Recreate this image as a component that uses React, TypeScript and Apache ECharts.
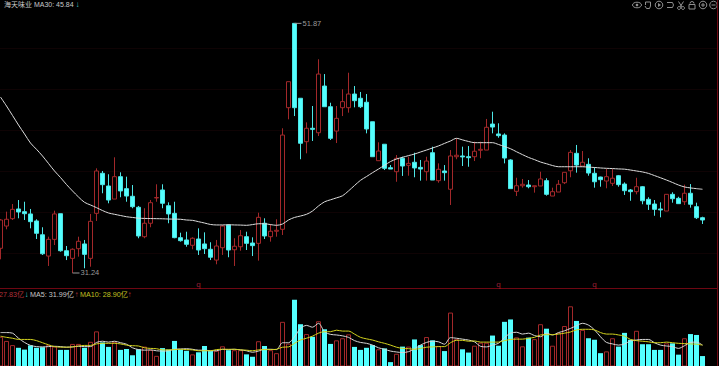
import React, { useEffect, useRef } from "react";
import * as echarts from "echarts";

const opens = [
  33.28,35.12,35.73,36.53,36.31,36.12,35.54,34.40,32.64,34.02,
  36.14,33.08,32.45,33.25,33.64,32.45,36.17,39.48,38.43,37.35,
  39.20,38.21,37.58,36.67,34.24,35.35,37.44,38.10,36.80,36.17,
  34.16,33.97,33.53,34.05,33.64,33.20,32.31,33.33,35.21,33.16,
  33.41,34.24,33.72,33.69,35.35,34.24,34.69,34.85,44.90,51.87,
  45.68,42.09,43.20,42.83,46.69,44.98,42.97,44.90,44.90,46.03,
  45.68,45.35,43.74,40.52,41.88,39.94,39.61,40.72,40.14,40.39,
  39.97,39.61,41.18,38.87,39.67,38.16,40.85,40.91,40.85,40.85,
  41.38,41.40,43.55,42.73,42.64,40.58,37.99,38.45,38.51,38.37,
  38.43,38.87,37.60,37.93,38.70,39.69,41.13,40.08,40.22,39.48,
  39.17,38.84,38.65,39.28,38.59,38.10,37.96,38.37,37.33,36.94,
  36.53,36.36,37.74,37.41,37.13,37.83,36.72,35.81,
];
const closes = [
  35.62,35.68,36.50,36.28,36.14,35.48,34.52,32.83,34.02,36.12,
  33.08,32.67,33.20,33.86,32.78,35.51,39.67,38.54,37.27,39.20,
  38.02,37.60,36.72,34.30,35.35,37.05,37.48,37.00,36.12,34.16,
  33.91,33.61,34.11,33.14,33.25,32.54,33.47,35.12,33.14,33.45,
  34.32,33.69,33.50,35.84,34.30,34.69,34.77,42.64,47.05,44.90,
  41.96,43.20,43.11,47.68,44.98,42.37,44.02,45.40,46.03,45.48,
  44.98,43.14,40.85,41.32,39.89,39.83,40.72,40.08,40.30,39.92,
  39.83,40.49,38.92,39.81,39.53,40.91,40.97,40.83,40.77,41.30,
  41.46,43.28,43.30,42.59,40.74,38.21,38.45,38.57,38.37,38.45,
  39.01,37.74,37.96,38.57,39.56,41.21,40.16,40.39,39.50,38.78,
  38.95,39.20,39.07,38.54,38.04,37.96,38.37,37.21,36.92,36.50,
  36.45,37.74,37.38,36.97,37.83,36.92,35.81,35.62,
];
const lows = [
  32.37,34.85,35.62,35.76,35.62,34.93,34.05,32.73,31.82,33.55,
  33.00,32.31,31.24,32.59,31.63,31.76,35.54,37.83,37.00,37.35,
  37.50,37.13,36.59,34.11,34.11,35.02,37.13,36.59,35.35,34.11,
  33.83,33.41,33.20,32.73,32.81,32.31,31.96,32.73,32.54,31.82,
  33.08,33.14,32.64,32.26,34.05,33.83,34.24,34.38,43.94,44.21,
  40.64,41.13,42.15,42.56,44.98,42.23,41.98,44.21,44.49,44.93,
  44.87,42.78,40.85,40.52,39.75,39.83,38.78,39.26,39.28,39.15,
  38.87,38.87,38.92,38.70,38.87,36.86,40.64,40.08,40.02,40.49,
  40.72,41.40,42.78,42.42,40.30,38.21,37.60,38.29,38.24,37.88,
  38.43,37.63,37.60,37.93,38.59,39.15,39.53,40.08,39.28,38.29,
  38.37,38.24,38.43,38.37,37.69,37.21,37.74,36.92,36.45,35.97,
  35.84,36.36,37.05,36.94,36.86,36.64,35.70,35.29,
];
const highs = [
  35.70,36.31,36.94,37.27,37.13,36.53,35.68,35.02,34.24,36.39,
  36.14,33.47,33.28,34.24,33.97,36.12,39.89,39.67,39.40,40.80,
  39.56,39.20,38.51,36.78,36.59,37.27,38.57,38.57,37.08,37.13,
  34.57,34.65,34.19,34.93,34.60,33.78,33.97,35.21,35.26,34.11,
  34.79,34.65,34.19,36.22,35.76,35.29,35.68,43.20,47.05,51.87,
  45.68,43.69,45.04,48.90,47.68,45.31,45.04,46.42,47.79,46.69,
  46.20,46.03,43.74,42.04,41.88,40.16,40.99,40.85,40.85,41.18,
  40.58,40.85,41.68,40.30,40.16,41.40,42.37,41.68,41.73,42.09,
  42.09,43.97,44.57,43.61,42.78,40.64,39.11,39.01,38.92,38.45,
  39.61,39.07,38.29,38.92,39.56,41.40,41.82,41.32,40.72,39.97,
  39.20,39.83,39.83,39.34,38.73,38.18,39.11,38.43,37.50,37.27,
  37.08,37.74,37.91,37.54,38.54,38.59,37.05,35.89,
];
const ma30 = [
  45.78,45.04,44.26,43.47,42.73,41.98,41.46,40.91,40.29,39.67,
  39.13,38.55,38.02,37.52,37.08,36.86,36.64,36.40,36.20,36.09,
  35.99,35.89,35.83,35.77,35.75,35.74,35.73,35.72,35.70,35.69,
  35.68,35.62,35.59,35.48,35.37,35.25,35.21,35.21,35.23,35.21,
  35.20,35.18,35.24,35.31,35.31,35.24,35.18,35.29,35.62,35.83,
  35.95,36.09,36.36,36.78,37.12,37.29,37.45,37.62,38.02,38.47,
  38.90,39.21,39.53,39.83,40.14,40.45,40.66,40.80,40.94,41.07,
  41.24,41.40,41.57,41.74,41.95,42.15,42.37,42.24,42.11,42.01,
  42.01,42.01,42.01,41.86,41.69,41.51,41.26,41.02,40.79,40.61,
  40.41,40.27,40.12,40.02,40.02,40.02,40.02,40.02,39.99,39.96,
  39.92,39.89,39.87,39.84,39.82,39.75,39.67,39.59,39.47,39.29,
  39.11,38.92,38.72,38.51,38.35,38.27,38.21,38.16,
];
const volumes = [
  34.3,32.9,31.5,30.6,30.0,31.4,30.6,30.8,31.5,31.0,
  29.9,29.9,31.9,31.9,30.6,32.6,36.1,32.4,30.9,32.6,
  29.9,30.2,28.1,30.1,31.0,29.9,27.9,30.5,30.0,32.9,
  30.0,29.6,28.4,29.1,31.2,29.5,29.6,31.1,29.8,29.8,
  29.8,28.4,27.6,32.8,31.2,29.8,28.8,39.3,32.0,46.7,
  38.5,35.2,34.3,39.5,36.8,31.9,33.1,33.8,35.1,30.9,
  29.9,30.6,31.5,30.1,30.4,25.8,28.6,31.0,31.0,33.4,
  31.5,34.2,33.1,31.2,29.5,42.4,33.5,30.1,29.0,31.3,
  32.3,32.3,34.7,31.3,39.3,40.1,34.1,31.1,34.0,33.5,
  38.5,37.0,31.3,35.6,37.9,44.5,39.6,36.6,33.8,33.3,
  28.8,29.4,33.8,31.0,35.6,33.3,36.3,31.8,31.8,29.9,
  29.9,32.1,32.1,28.3,33.8,35.2,34.9,27.83,
];
const volMa5 = [
  35.7,35.7,35.5,33.8,32.4,31.4,31.0,30.9,31.0,31.1,
  31.0,30.8,30.9,31.1,31.0,31.0,32.4,32.8,32.5,32.8,
  32.3,31.8,30.6,30.0,29.8,29.9,29.6,29.5,29.6,30.1,
  30.2,30.3,30.1,29.8,29.8,29.6,29.6,30.1,30.0,30.1,
  29.9,29.6,29.1,29.5,30.1,30.1,30.0,32.3,32.3,34.3,
  37.1,38.1,37.5,38.8,36.0,35.1,34.9,34.6,34.1,33.0,
  32.4,32.1,31.5,30.6,30.1,29.5,29.2,29.0,29.3,30.2,
  31.5,32.4,32.8,32.6,31.8,34.0,33.8,33.5,33.2,32.6,
  31.1,30.9,31.5,32.1,34.0,35.5,35.8,35.2,35.5,34.7,
  34.3,35.5,34.9,35.7,36.3,37.1,38.0,38.8,38.2,36.6,
  34.3,32.4,31.9,31.5,31.9,32.9,33.2,33.4,33.4,32.3,
  31.5,31.2,31.0,30.4,31.3,32.4,32.5,31.5,
];
const volMa10 = [
  34.5,34.1,33.8,33.4,33.4,33.4,33.0,32.3,31.6,31.0,
  30.8,30.8,30.9,31.2,31.4,31.4,31.9,32.1,32.1,32.1,
  31.9,31.5,31.3,31.2,30.6,30.4,30.3,29.9,29.9,30.0,
  30.1,30.0,29.9,29.6,29.6,29.6,30.0,30.1,30.1,30.1,
  29.9,29.8,29.6,29.9,30.0,30.0,30.1,30.8,30.9,32.1,
  33.2,33.8,34.5,35.5,36.0,36.0,36.5,36.2,36.2,35.2,
  34.1,33.6,33.2,32.6,32.1,31.5,30.8,30.4,30.3,30.1,
  30.4,30.8,30.9,31.0,31.0,32.3,33.1,33.1,32.8,32.9,
  32.5,32.5,32.5,32.5,33.0,33.4,33.5,33.5,33.8,34.1,
  34.9,35.0,35.0,35.2,35.5,35.9,36.6,36.8,36.8,36.6,
  35.7,35.2,35.2,34.9,34.5,33.4,33.0,32.8,32.6,32.3,
  32.3,32.5,32.3,32.1,32.0,31.9,31.8,31.5,
];

const highLabel = { index: 49, value: 51.87 };
const lowLabel = { index: 12, value: 31.24 };
const eventIndexes = [33, 83, 99];
const eventLevel = 30.25;
const eventMark = "q";
const gridLevels = [49.83, 46.45, 43.06, 39.67, 36.28, 32.89];
const categories = Array.from({ length: 120 }, (_, i) => String(i + 1));

const stockTitle = "海天味业 MA30: 45.84";
const volLabel = "27.83亿";
const ma5Label = "MA5: 31.99亿";
const ma10Label = "MA10: 28.90亿";

const RED = "#a3282a";
const CYAN = "#54ffff";
const WICK_CYAN = "#4de6e6";
const DIVIDER = "#6e0712";
const FONT = '"Liberation Sans", "Noto Sans CJK SC", sans-serif';
const GREY = "#8f8f8f";
const SHIFT = 3;

function text(x: number, y: number, t: string, fill: string, size = 7.2, weight = "normal") {
  return {
    type: "text",
    x: x + SHIFT,
    y,
    silent: true,
    style: { text: t, fill, font: `${weight} ${size}px ${FONT}`, textVerticalAlign: "middle" },
  };
}
const line = (x1: number, y1: number, x2: number, y2: number) => ({
  type: "line",
  silent: true,
  shape: { x1: x1 + SHIFT, y1, x2: x2 + SHIFT, y2 },
  style: { stroke: GREY, lineWidth: 1, fill: "none" },
});
const circle = (cx: number, cy: number, r: number) => ({
  type: "circle",
  silent: true,
  shape: { cx: cx + SHIFT, cy, r },
  style: { stroke: GREY, lineWidth: 1, fill: "none" },
});
const shifted = (pts: number[][]) => pts.map(([x, y]) => [x + SHIFT, y]);

function icons() {
  const y = 5;
  return [
    { type: "ellipse", silent: true, shape: { cx: 637 + SHIFT, cy: y, rx: 4.5, ry: 2.8 }, style: { stroke: GREY, fill: "none", lineWidth: 1 } },
    { type: "circle", silent: true, shape: { cx: 637 + SHIFT, cy: y, r: 1.3 }, style: { fill: GREY } },
    { type: "polyline", silent: true, shape: { points: shifted([[645.5, 5], [645.5, 2], [650.5, 2], [650.5, 6], [649.5, 8.5], [646.5, 8.5], [645, 6]]) }, style: { stroke: GREY, fill: "none", lineWidth: 1 } },
    circle(659, y, 3.8),
    { type: "polygon", silent: true, shape: { points: shifted([[658, 3], [661, 5], [658, 7]]) }, style: { fill: GREY } },
    { type: "polyline", silent: true, shape: { points: shifted([[667, 2.5], [672.5, 2.5], [673.5, 5], [672.5, 7.5], [667, 7.5]]) }, style: { stroke: GREY, fill: "none", lineWidth: 1 } },
    circle(679, 8, 1.5),
    circle(683, 8, 1.5),
    line(680, 7, 683.5, 1.5),
    line(682, 7, 678.5, 1.5),
    { type: "rect", silent: true, shape: { x: 689 + SHIFT, y: 4.5, width: 6, height: 4.5 }, style: { stroke: GREY, fill: "none", lineWidth: 1 } },
    { type: "arc", silent: true, shape: { cx: 692 + SHIFT, cy: 3.5, r: 2, startAngle: Math.PI, endAngle: 2 * Math.PI }, style: { stroke: GREY, fill: "none", lineWidth: 1 } },
    circle(703, y, 3.8),
    line(701, y, 705, y),
    line(703, 3, 703, 7),
    circle(713.5, y, 3.8),
    line(711.5, y, 715.5, y),
  ];
}

export default function App() {
  const ref = useRef<HTMLDivElement>(null);
  useEffect(() => {
    if (!ref.current) return;
    const chart = echarts.init(ref.current, undefined, { renderer: "svg" });
    const extremeLabel = (index: number, value: number) => ({
      coord: [index, value],
      value: value.toFixed(2),
    });
    chart.setOption({
      animation: false,
      backgroundColor: "#000",
      grid: [
        { left: 0.5, width: 720, top: 0, height: 288 },
        { left: 0.5, width: 720, top: 289, height: 77 },
      ],
      xAxis: [0, 1].map((g) => ({
        type: "category",
        gridIndex: g,
        data: categories,
        boundaryGap: true,
        axisTick: { show: false },
        axisLabel: { show: false },
        axisLine: { show: g === 0, lineStyle: { color: DIVIDER, width: 1 } },
        splitLine: { show: false },
      })),
      yAxis: [
        { type: "value", gridIndex: 0, min: 30, max: 53.8, position: "right", axisLabel: { show: false }, axisTick: { show: false }, splitLine: { show: false }, axisLine: { show: true, lineStyle: { color: DIVIDER } } },
        { type: "value", gridIndex: 1, min: 24.5, max: 50.3, position: "right", axisLabel: { show: false }, axisTick: { show: false }, splitLine: { show: false }, axisLine: { show: true, lineStyle: { color: DIVIDER } } },
      ],
      series: [
        {
          type: "candlestick",
          xAxisIndex: 0,
          yAxisIndex: 0,
          barWidth: 5,
          data: opens.map((o, i) => [o, closes[i], lows[i], highs[i]]),
          itemStyle: { color: "#000", color0: CYAN, borderColor: RED, borderColor0: WICK_CYAN, borderWidth: 1 },
          markLine: {
            silent: true,
            symbol: "none",
            label: { show: false },
            lineStyle: { color: "#0f0304", type: "solid", width: 1 },
            data: gridLevels.map((v) => ({ yAxis: v })),
            z: 0,
          },
          markPoint: {
            silent: true,
            symbol: "rect",
            symbolSize: [7, 1],
            symbolOffset: [3.5, 0],
            itemStyle: { color: "#999" },
            label: { show: true, position: "right", distance: 1, color: "#9a9a9a", fontSize: 7.5, fontFamily: FONT, formatter: "{c}" },
            data: [extremeLabel(highLabel.index, highLabel.value), extremeLabel(lowLabel.index, lowLabel.value)],
          },
        },
        {
          type: "line",
          xAxisIndex: 0,
          yAxisIndex: 0,
          data: ma30,
          showSymbol: false,
          smooth: 0.3,
          lineStyle: { color: "#dcdcdc", width: 1 },
          z: 5,
        },
        {
          type: "scatter",
          xAxisIndex: 0,
          yAxisIndex: 0,
          symbol: "circle",
          symbolSize: 1,
          itemStyle: { color: "rgba(0,0,0,0)" },
          data: eventIndexes.map((i) => [i, eventLevel]),
          label: { show: true, position: "inside", formatter: eventMark, color: "#c02840", fontSize: 8, fontFamily: FONT },
          z: 7,
        },
        {
          type: "bar",
          xAxisIndex: 1,
          yAxisIndex: 1,
          barWidth: 5,
          data: volumes.map((v, i) => ({
            value: v,
            itemStyle: closes[i] >= opens[i]
              ? { color: "#000", borderColor: RED, borderWidth: 1 }
              : { color: CYAN, borderWidth: 0 },
          })),
        },
        { type: "line", xAxisIndex: 1, yAxisIndex: 1, data: volMa5, showSymbol: false, smooth: 0.3, lineStyle: { color: "#d6d6d6", width: 1 }, z: 5 },
        { type: "line", xAxisIndex: 1, yAxisIndex: 1, data: volMa10, showSymbol: false, smooth: 0.3, lineStyle: { color: "#d2d21e", width: 1 }, z: 6 },
      ],
      graphic: [
        text(4, 4.5, stockTitle, "#c8c8c8", 7),
        text(75.5, 4.5, "↓", "#3fc8c8", 8, "bold"),
        text(-1, 294, volLabel, "#b0303a"),
        text(24.5, 294, "↓", "#3fc8c8", 8, "bold"),
        text(30, 294, ma5Label, "#c8c8c8"),
        text(74.5, 294, "↑", "#b0303a", 8, "bold"),
        text(80, 294, ma10Label, "#c0c020"),
        text(127.5, 294, "↑", "#b0303a", 8, "bold"),
        ...icons(),
      ],
    });
    return () => chart.dispose();
  }, []);
  return (
    <div style={{ position: "fixed", left: 0, top: 0, width: 719, height: 366, overflow: "hidden", background: "#000" }}>
      <div ref={ref} style={{ position: "absolute", left: -SHIFT, top: 0, width: 722, height: 366 }} />
    </div>
  );
}
